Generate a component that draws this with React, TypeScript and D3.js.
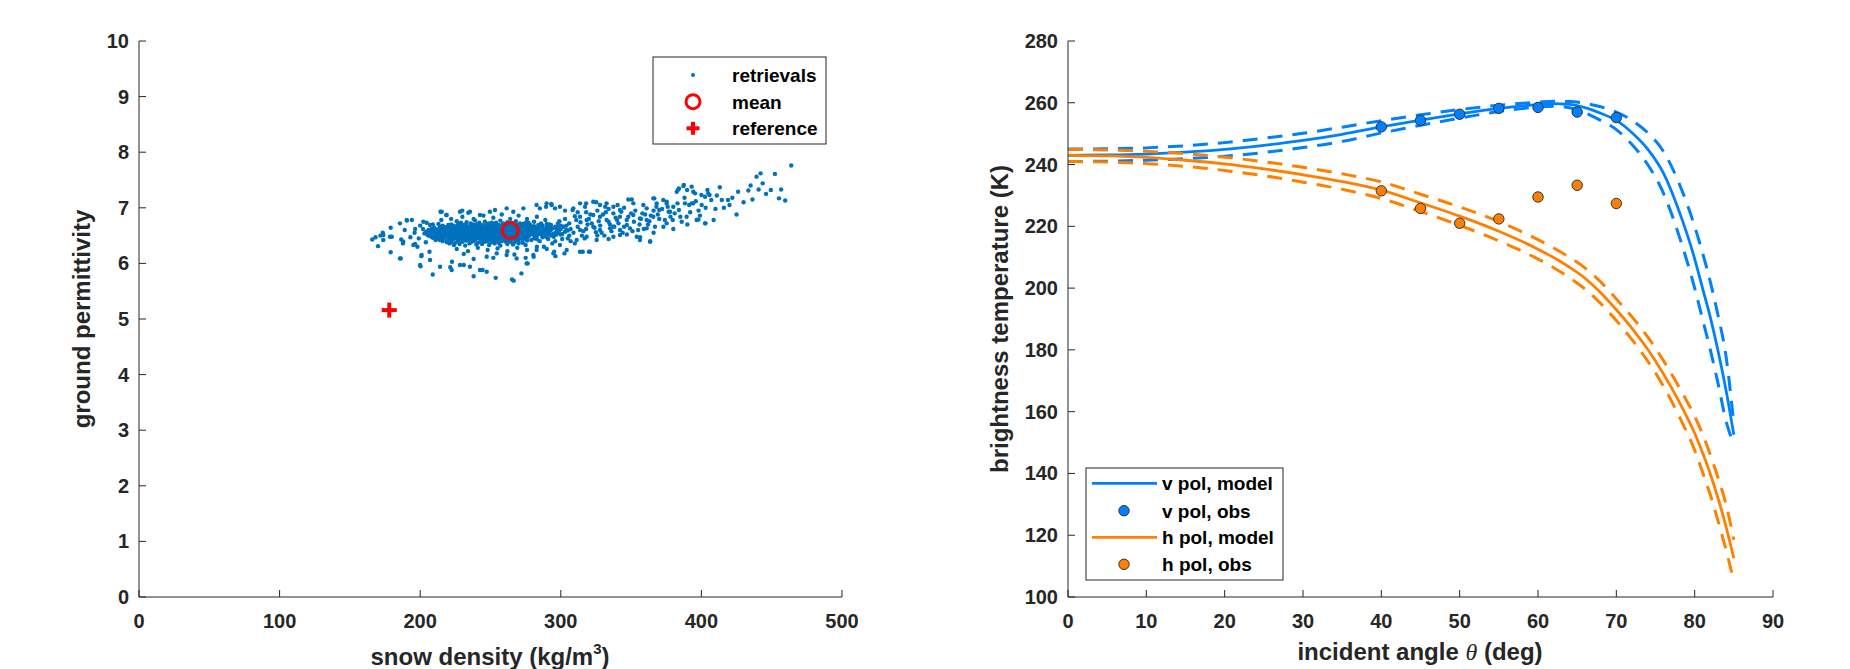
import * as d3 from "d3";

// ---- left panel: retrievals (snow density kg/m3, ground permittivity) ----
const retrievals: [number, number][] = [
  // sparse outliers
  [165.9, 6.43], [168.2, 6.47], [170.0, 6.31], [171.7, 6.5], [173.4, 6.55], [173.7, 6.42], [179.0, 6.64], [179.8, 6.48],
  [179.0, 6.2], [186.2, 6.09], [186.5, 6.43], [187.7, 6.36], [190.6, 6.77], [194.1, 6.78], [196.4, 6.62], [196.4, 6.35],
  [200.8, 6.13], [200.2, 5.95], [204.6, 6.73], [206.6, 6.21], [208.9, 5.8], [213.0, 6.71], [214.4, 6.93], [218.5, 6.87],
  [221.4, 5.93], [222.6, 6.03], [229.9, 6.95], [231.0, 5.97], [234.2, 6.91], [238.0, 5.77], [244.4, 5.88], [247.3, 5.85],
  [253.7, 5.74], [265.3, 5.71], [266.5, 5.69], [272.0, 5.82], [276.4, 6.0], [280.7, 6.12], [285.1, 6.99], [289.5, 7.02],
  [293.2, 7.07], [295.9, 6.99], [295.3, 6.21], [296.2, 6.13], [302.6, 6.18], [308.4, 6.96], [315.6, 6.21], [320.0, 6.21],
  [318.0, 7.08], [325.2, 7.1], [331.6, 7.02], [337.4, 6.66], [340.4, 7.05], [350.5, 7.15], [356.4, 6.47], [363.6, 6.4],
  [366.5, 7.17], [368.0, 7.02], [375.3, 7.11], [376.7, 6.93], [379.6, 6.78], [382.5, 7.29], [384.0, 7.35], [387.5, 7.41],
  [389.8, 7.32], [394.2, 7.29], [391.3, 7.05], [394.2, 7.08], [397.9, 6.79], [400.0, 7.23], [402.9, 6.72], [404.3, 7.32],
  [405.8, 7.23], [408.7, 6.78], [413.1, 7.37], [414.5, 7.14], [418.9, 7.14], [426.1, 7.29], [433.4, 7.31], [436.3, 7.15],
  [439.2, 7.56], [440.7, 7.33], [442.1, 7.62], [443.6, 7.44], [449.4, 7.32], [452.3, 7.61], [455.2, 7.17], [456.7, 7.33],
  [459.6, 7.13], [463.9, 7.76],
  // upper right band
  [313.7, 7.08], [317.2, 7.02], [323.1, 7.11], [327.9, 7.05], [332.6, 7.08], [337.4, 7.02], [342.1, 6.96], [348.0, 7.15],
  [351.6, 7.08], [358.7, 7.05], [361.1, 6.99], [365.8, 7.17], [368.2, 7.08], [372.9, 7.14], [375.3, 7.08], [377.7, 6.93],
  [380.0, 7.02], [383.6, 7.33], [387.2, 7.39], [393.1, 7.38], [395.5, 7.26], [388.3, 7.08], [393.1, 7.08], [400.2, 7.05],
  [402.6, 7.2], [404.9, 7.26], [313.7, 6.84], [318.4, 6.78], [323.1, 6.87], [327.9, 6.84], [332.6, 6.78], [337.4, 6.9],
  [342.1, 6.84], [346.9, 6.78], [351.6, 6.87], [356.3, 6.81], [361.1, 6.78], [365.8, 6.84], [323.1, 6.66], [327.9, 6.6],
  [335.0, 6.63], [342.1, 6.6], [349.2, 6.63], [337.4, 6.48], [342.1, 6.51], [356.3, 6.42], [361.1, 6.63], [363.5, 6.39],
  [375.3, 6.72], [389.5, 6.84], [396.6, 6.78], [402.6, 6.72], [313.7, 6.6], [318.4, 6.48], [311.3, 6.42], [325.5, 6.42],
  [320.8, 6.21], [313.7, 6.21], [304.2, 6.24], [299.4, 6.33], [294.7, 6.18], [280.5, 6.15], [282.8, 6.24], [275.7, 6.0],
  [268.6, 6.09], [261.5, 6.15], [254.4, 6.18], [247.3, 6.12], [242.5, 5.88], [235.4, 5.94], [228.3, 5.97], [222.4, 5.88],
  [214.1, 5.94], [207.0, 6.06], [199.9, 5.97], [201.0, 6.15], [185.6, 6.09], [195.1, 6.33], [188.0, 6.39], [178.5, 6.48],
  [173.8, 6.51], [185.6, 6.72], [190.4, 6.78], [202.2, 6.75], [207.0, 6.69], [215.3, 6.93], [218.8, 6.87], [228.3, 6.93],
  [235.4, 6.93], [242.5, 6.87], [249.6, 6.93], [253.2, 6.96], [261.5, 6.99], [266.2, 6.93], [273.4, 6.99], [282.8, 7.05],
  [289.9, 7.08], [293.5, 7.05], [299.4, 7.02], [308.9, 6.99],
  [292, 6.7], [296, 6.64], [300, 6.68], [304, 6.6], [306, 6.72], [309, 6.55], [312, 6.66], [315, 6.5], [318, 6.62],
  [322, 6.72], [325, 6.56], [328, 6.68], [331, 6.5], [334, 6.75], [338, 6.66], [341, 6.72], [344, 6.55], [347, 6.69],
  [352, 6.75], [355, 6.6], [358, 6.9], [362, 6.7], [366, 6.95], [370, 6.8], [373, 6.66], [305, 6.45], [310, 6.36],
  [300, 6.52], [296, 6.4], [303, 6.8], [310, 6.85], [318, 6.92], [326, 6.95], [334, 6.98], [345, 7.0], [290, 6.62],
  [293, 6.5], [298, 6.58], [302, 6.66], [306, 6.5], [314, 6.74], [320, 6.8], [330, 6.88], [340, 6.78], [350, 6.9],
  [357, 6.8], [364, 6.86], [370, 6.96], [378, 6.84], [384, 6.96], [386, 6.75], [398, 6.95], [410, 6.98], [420, 7.05],
  [425, 6.88],
  [303, 6.95], [307, 6.62], [311, 6.78], [316, 6.58], [319, 6.7], [321, 6.88], [324, 6.64], [327, 6.76], [329, 6.55],
  [332, 6.92], [335, 6.7], [336, 6.58], [339, 6.82], [343, 6.93], [345, 6.66], [348, 6.84], [351, 6.58], [353, 6.95],
  [356, 6.7], [359, 6.62], [360, 6.88], [363, 6.76], [367, 6.66], [369, 6.88], [372, 6.98], [374, 6.78], [376, 7.02],
  [381, 6.9], [383, 7.08], [385, 6.84], [388, 7.18], [392, 6.92], [396, 7.12], [399, 6.86], [403, 7.0], [407, 7.14],
  [411, 7.22], [416, 7.0], [422, 7.18], [430, 7.1], [435, 7.4], [446, 7.25], [312, 6.92], [317, 6.45], [326, 6.5],
  [334, 6.44], [347, 6.52], [354, 6.48], [366, 6.55], [380, 6.62], [390, 6.7],
  [292, 6.58], [295, 6.48], [298, 6.72], [301, 6.44], [304, 6.68], [307, 6.4], [299, 6.76], [294, 6.36], [288, 6.3],
  [285, 6.4], [291, 6.44],
  // left fringe
  [196, 6.55], [199, 6.45], [202, 6.62], [204, 6.38], [206, 6.5], [200, 6.68], [193, 6.47], [189, 6.6], [209, 6.7],
  [211, 6.42], [198, 6.3],
  // upper / lower fringe of core
  [222, 6.8], [230, 6.84], [238, 6.8], [245, 6.86], [252, 6.82], [258, 6.88], [264, 6.8], [270, 6.86], [276, 6.8],
  [283, 6.84], [289, 6.78], [215, 6.78], [226, 6.26], [234, 6.22], [241, 6.28], [248, 6.24], [255, 6.27], [262, 6.22],
  [269, 6.28], [276, 6.24], [283, 6.3], [290, 6.26], [231, 6.17], [252, 6.1], [267, 6.16], [238, 6.08], [275, 6.1],
  // dense core
  [226, 6.76], [233, 6.74], [239, 6.77], [246, 6.75], [251, 6.73], [257, 6.77], [262, 6.74], [268, 6.76], [275, 6.73], [281, 6.75],
  [229, 6.73], [236, 6.72], [242, 6.73], [249, 6.72], [254, 6.73], [259, 6.72], [265, 6.73], [271, 6.72], [277, 6.73], [286, 6.72],
  [222, 6.7], [227, 6.71], [231, 6.69], [236, 6.71], [240, 6.7], [244, 6.69], [248, 6.71], [252, 6.7], [256, 6.69], [260, 6.71],
  [264, 6.7], [269, 6.69], [273, 6.71], [278, 6.7], [284, 6.69], [290, 6.71],
  [216, 6.68], [220, 6.69], [224, 6.68], [229, 6.67], [233, 6.68], [238, 6.69], [242, 6.68], [246, 6.67], [250, 6.68], [254, 6.69],
  [258, 6.68], [262, 6.67], [266, 6.68], [271, 6.69], [275, 6.68], [281, 6.67], [287, 6.68], [293, 6.69],
  [214, 6.66], [218, 6.65], [222, 6.67], [226, 6.66], [229, 6.65], [233, 6.67], [236, 6.66], [240, 6.65], [243, 6.67], [247, 6.66],
  [250, 6.65], [254, 6.67], [257, 6.66], [261, 6.65], [264, 6.67], [268, 6.66], [272, 6.65], [276, 6.67], [280, 6.66], [285, 6.65],
  [290, 6.67], [296, 6.66],
  [210, 6.64], [214, 6.63], [218, 6.64], [221, 6.65], [224, 6.64], [228, 6.63], [231, 6.64], [235, 6.65], [238, 6.64], [242, 6.63],
  [245, 6.64], [249, 6.65], [252, 6.64], [256, 6.63], [259, 6.64], [263, 6.65], [266, 6.64], [270, 6.63], [274, 6.64], [278, 6.65],
  [282, 6.64], [287, 6.63], [292, 6.64], [298, 6.65],
  [208, 6.62], [212, 6.61], [216, 6.63], [219, 6.62], [223, 6.61], [226, 6.63], [230, 6.62], [233, 6.61], [237, 6.63], [240, 6.62],
  [244, 6.61], [247, 6.63], [251, 6.62], [254, 6.61], [258, 6.63], [261, 6.62], [265, 6.61], [268, 6.63], [272, 6.62], [276, 6.61],
  [280, 6.63], [284, 6.62], [289, 6.61], [294, 6.63], [300, 6.62],
  [206, 6.6], [210, 6.59], [214, 6.6], [218, 6.61], [222, 6.6], [225, 6.59], [229, 6.6], [232, 6.61], [236, 6.6], [239, 6.59],
  [243, 6.6], [246, 6.61], [250, 6.6], [253, 6.59], [257, 6.6], [260, 6.61], [264, 6.6], [267, 6.59], [271, 6.6], [275, 6.61],
  [279, 6.6], [283, 6.59], [288, 6.6], [293, 6.61], [299, 6.6], [305, 6.59],
  [205, 6.58], [209, 6.57], [213, 6.59], [217, 6.58], [220, 6.57], [224, 6.59], [227, 6.58], [231, 6.57], [234, 6.59], [238, 6.58],
  [241, 6.57], [245, 6.59], [248, 6.58], [252, 6.57], [255, 6.59], [259, 6.58], [262, 6.57], [266, 6.59], [270, 6.58], [273, 6.57],
  [277, 6.59], [281, 6.58], [286, 6.57], [291, 6.59], [297, 6.58], [303, 6.57],
  [204, 6.56], [208, 6.55], [212, 6.56], [216, 6.57], [219, 6.56], [223, 6.55], [226, 6.56], [230, 6.57], [233, 6.56], [237, 6.55],
  [240, 6.56], [244, 6.57], [247, 6.56], [251, 6.55], [254, 6.56], [258, 6.57], [261, 6.56], [265, 6.55], [269, 6.56], [273, 6.57],
  [277, 6.56], [282, 6.55], [287, 6.56], [292, 6.57], [298, 6.56],
  [203, 6.54], [207, 6.53], [211, 6.55], [214, 6.54], [218, 6.53], [221, 6.55], [225, 6.54], [228, 6.53], [232, 6.55], [235, 6.54],
  [239, 6.53], [242, 6.55], [246, 6.54], [249, 6.53], [253, 6.55], [256, 6.54], [260, 6.53], [263, 6.55], [267, 6.54], [271, 6.53],
  [275, 6.55], [279, 6.54], [284, 6.53], [289, 6.55], [295, 6.54], [301, 6.53],
  [205, 6.52], [208, 6.51], [212, 6.52], [215, 6.53], [219, 6.52], [222, 6.51], [226, 6.52], [229, 6.53], [233, 6.52], [236, 6.51],
  [240, 6.52], [243, 6.53], [247, 6.52], [250, 6.51], [254, 6.52], [257, 6.53], [261, 6.52], [264, 6.51], [268, 6.52], [272, 6.53],
  [276, 6.52], [281, 6.51], [286, 6.52], [291, 6.53], [297, 6.52],
  [206, 6.5], [210, 6.49], [213, 6.51], [217, 6.5], [220, 6.49], [224, 6.51], [227, 6.5], [231, 6.49], [234, 6.51], [238, 6.5],
  [241, 6.49], [245, 6.51], [248, 6.5], [252, 6.49], [255, 6.51], [259, 6.5], [262, 6.49], [266, 6.51], [270, 6.5], [274, 6.49],
  [278, 6.51], [283, 6.5], [288, 6.49], [294, 6.51],
  [208, 6.48], [211, 6.47], [215, 6.48], [219, 6.49], [222, 6.48], [226, 6.47], [229, 6.48], [233, 6.49], [236, 6.48], [240, 6.47],
  [243, 6.48], [247, 6.49], [250, 6.48], [254, 6.47], [257, 6.48], [261, 6.49], [265, 6.48], [268, 6.47], [272, 6.48], [277, 6.49],
  [282, 6.48], [290, 6.47],
  [209, 6.46], [213, 6.45], [217, 6.47], [221, 6.46], [224, 6.45], [228, 6.47], [231, 6.46], [235, 6.45], [238, 6.47], [242, 6.46],
  [245, 6.45], [249, 6.47], [252, 6.46], [256, 6.45], [260, 6.47], [263, 6.46], [267, 6.45], [271, 6.47], [276, 6.46], [281, 6.45],
  [287, 6.47],
  [211, 6.44], [216, 6.43], [220, 6.44], [225, 6.45], [229, 6.44], [233, 6.43], [237, 6.44], [241, 6.45], [245, 6.44], [249, 6.43],
  [253, 6.44], [257, 6.45], [261, 6.44], [265, 6.43], [270, 6.44], [275, 6.45], [283, 6.44],
  [214, 6.42], [219, 6.41], [223, 6.43], [227, 6.42], [231, 6.41], [235, 6.43], [239, 6.42], [243, 6.41], [247, 6.43], [251, 6.42],
  [255, 6.41], [259, 6.43], [263, 6.42], [268, 6.41], [273, 6.43], [279, 6.42],
  [216, 6.4], [222, 6.39], [227, 6.4], [233, 6.41], [238, 6.4], [243, 6.39], [248, 6.4], [253, 6.41], [258, 6.4], [264, 6.39],
  [270, 6.4], [276, 6.41],
  [219, 6.38], [225, 6.37], [230, 6.39], [236, 6.38], [241, 6.37], [246, 6.39], [251, 6.38], [256, 6.37], [261, 6.39], [267, 6.38],
  [273, 6.37],
  [221, 6.36], [228, 6.35], [235, 6.36], [244, 6.35], [253, 6.36], [262, 6.35], [270, 6.36],
  [224, 6.33], [232, 6.32], [240, 6.34], [249, 6.33], [257, 6.32], [266, 6.34], [275, 6.33],
];
const meanPoint: [number, number] = [264, 6.59];
const referencePoint: [number, number] = [178, 5.16];
const densityTicks = [0, 100, 200, 300, 400, 500];
const permittivityTicks = [0, 1, 2, 3, 4, 5, 6, 7, 8, 9, 10];

// ---- right panel: brightness temperature vs incident angle ----
const angles = [0, 5, 10, 15, 20, 25, 30, 35, 40, 45, 50, 55, 60, 62, 64, 66, 68, 70, 72, 74, 76, 78, 80, 81, 82, 83, 84, 85];
const vModel = [243.0, 243.1, 243.4, 244.0, 244.9, 246.2, 247.8, 249.8, 252.2, 254.4, 256.4, 258.2, 259.4, 259.7, 259.5, 258.4,
  256.6, 254.3, 250.3, 245.0, 237.3, 225.0, 209.5, 200.0, 190.5, 179.5, 167.0, 152.5];
const vUpper = [245.0, 245.1, 245.4, 246.1, 247.1, 248.5, 250.1, 252.1, 254.2, 256.1, 257.8, 259.2, 260.2, 260.5, 260.4, 259.8,
  258.7, 257.0, 254.3, 250.3, 244.3, 234.0, 220.0, 211.5, 202.0, 191.0, 178.0, 156.0];
const vLower = [241.0, 241.1, 241.4, 241.9, 242.7, 243.9, 245.5, 247.5, 250.2, 252.7, 255.0, 257.2, 258.6, 258.9, 258.4, 256.8,
  254.3, 251.3, 246.5, 240.0, 230.8, 217.0, 200.0, 190.0, 180.0, 169.0, 157.0, 149.5];
const hModel = [243.0, 242.8, 242.3, 241.4, 240.2, 238.6, 236.7, 234.5, 231.7, 227.6, 223.3, 218.4, 212.6, 209.9, 206.8, 203.2,
  198.5, 193.0, 187.0, 180.2, 172.3, 163.3, 153.0, 146.8, 139.8, 131.8, 122.8, 112.5];
const hUpper = [244.9, 244.7, 244.3, 243.5, 242.4, 240.9, 239.1, 237.0, 234.4, 230.4, 226.3, 221.5, 215.7, 213.0, 210.0, 206.5,
  202.0, 196.5, 190.7, 184.2, 176.6, 168.0, 158.5, 152.8, 146.0, 138.5, 130.0, 118.5];
const hLower = [241.0, 240.8, 240.3, 239.4, 238.1, 236.4, 234.3, 232.0, 229.0, 224.8, 220.3, 215.3, 209.4, 206.6, 203.4, 199.7,
  195.0, 189.5, 183.3, 176.4, 168.3, 158.6, 147.5, 140.5, 133.0, 124.5, 115.3, 105.0];
const obsAngles = [40, 45, 50, 55, 60, 65, 70];
const vObs = [252.2, 254.3, 256.3, 258.2, 258.5, 257.0, 255.2];
const hObs = [231.5, 225.8, 221.0, 222.4, 229.5, 233.3, 227.4];
const angleTicks = [0, 10, 20, 30, 40, 50, 60, 70, 80, 90];
const tempTicks = [100, 120, 140, 160, 180, 200, 220, 240, 260, 280];

const font = "'Liberation Sans', Arial, Helvetica, sans-serif";
const axisColor = "#262626";
const scatterBlue = "#0072BD";
const vColor = "#0080FF";
const hColor = "#FF8000";
const top = 41;
const bottom = 597;

const xL = d3.scaleLinear().domain([0, 500]).range([139, 842]);
const yL = d3.scaleLinear().domain([0, 10]).range([bottom, top]);
const xR = d3.scaleLinear().domain([0, 90]).range([1068, 1773]);
const yR = d3.scaleLinear().domain([100, 280]).range([bottom, top]);

function Axes({ x, y, xTicks, yTicks }: { x: any; y: any; xTicks: number[]; yTicks: number[] }) {
  const [x0, x1] = x.range();
  return (
    <g fontFamily={font} fontWeight="bold" fontSize={20} fill={axisColor}>
      <line x1={x0} x2={x1} y1={bottom} y2={bottom} stroke={axisColor} strokeWidth={1} />
      <line x1={x0} x2={x0} y1={bottom} y2={top} stroke={axisColor} strokeWidth={1} />
      {xTicks.map((t) => (
        <g key={"x" + t}>
          <line x1={x(t)} x2={x(t)} y1={bottom} y2={bottom - 7} stroke={axisColor} />
          <text x={x(t)} y={bottom + 31} textAnchor="middle">{t}</text>
        </g>
      ))}
      {yTicks.map((t) => (
        <g key={"y" + t}>
          <line x1={x0} x2={x0 + 7} y1={y(t)} y2={y(t)} stroke={axisColor} />
          <text x={x0 - 10} y={y(t) + 7} textAnchor="end">{t}</text>
        </g>
      ))}
    </g>
  );
}

function Plus({ cx, cy, size, color }: { cx: number; cy: number; size: number; color: string }) {
  return (
    <g stroke={color} strokeWidth={4}>
      <line x1={cx - size} x2={cx + size} y1={cy} y2={cy} />
      <line x1={cx} x2={cx} y1={cy - size} y2={cy + size} />
    </g>
  );
}

export default function App() {
  const line = (vals: number[]) =>
    d3
      .line<number>()
      .x((_, i) => xR(angles[i]))
      .y((d) => yR(d))
      .curve(d3.curveMonotoneX)(vals) as string;

  const dash = "15 10";
  const lw = 2.8;
  const dlw = 3;

  return (
    <div style={{ position: "absolute", left: 0, top: 0 }}>
      <svg width={1850} height={669} style={{ display: "block", background: "#fff" }}>
        {/* left panel */}
        <g>
          {retrievals.map(([d, v], i) => (
            <circle key={i} cx={xL(d)} cy={yL(v)} r={2.2} fill={scatterBlue} />
          ))}
          <circle cx={xL(meanPoint[0])} cy={yL(meanPoint[1])} r={8} fill="none" stroke="#FF0000" strokeWidth={3} />
          <Plus cx={xL(referencePoint[0])} cy={yL(referencePoint[1])} size={7.5} color="#FF0000" />
          <Axes x={xL} y={yL} xTicks={densityTicks} yTicks={permittivityTicks} />
          <text x={490} y={665} textAnchor="middle" fontFamily={font} fontWeight="bold" fontSize={24} fill={axisColor}>
            snow density (kg/m<tspan dy={-11} fontSize={15}>3</tspan><tspan dy={11}>)</tspan>
          </text>
          <text transform="translate(90,319) rotate(-90)" textAnchor="middle" fontFamily={font} fontWeight="bold" fontSize={24} fill={axisColor}>
            ground permittivity
          </text>
          {/* legend */}
          <g fontFamily={font} fontWeight="bold" fontSize={19} fill="#000">
            <rect x={653} y={57} width={173} height={87} fill="#fff" stroke={axisColor} strokeWidth={1} />
            <circle cx={693} cy={75} r={2} fill={scatterBlue} />
            <text x={732} y={82}>retrievals</text>
            <circle cx={693} cy={101.7} r={7} fill="none" stroke="#FF0000" strokeWidth={3} />
            <text x={732} y={108.7}>mean</text>
            <Plus cx={693} cy={128.3} size={6.5} color="#FF0000" />
            <text x={732} y={135.3}>reference</text>
          </g>
        </g>

        {/* right panel */}
        <g fill="none">
          <path d={line(vUpper)} stroke={vColor} strokeWidth={dlw} strokeDasharray={dash} />
          <path d={line(vLower)} stroke={vColor} strokeWidth={dlw} strokeDasharray={dash} />
          <path d={line(vModel)} stroke={vColor} strokeWidth={lw} />
          <path d={line(hUpper)} stroke={hColor} strokeWidth={dlw} strokeDasharray={dash} />
          <path d={line(hLower)} stroke={hColor} strokeWidth={dlw} strokeDasharray={dash} />
          <path d={line(hModel)} stroke={hColor} strokeWidth={lw} />
        </g>
        {obsAngles.map((a, i) => (
          <g key={"o" + a}>
            <circle cx={xR(a)} cy={yR(vObs[i])} r={5.2} fill={vColor} stroke="#333" strokeWidth={1} />
            <circle cx={xR(a)} cy={yR(hObs[i])} r={5.2} fill={hColor} stroke="#333" strokeWidth={1} />
          </g>
        ))}
        <Axes x={xR} y={yR} xTicks={angleTicks} yTicks={tempTicks} />
        <text x={1420} y={660} textAnchor="middle" fontFamily={font} fontWeight="bold" fontSize={24} fill={axisColor}>
          incident angle <tspan fontFamily="'Liberation Serif', serif" fontStyle="italic" fontWeight="normal">θ</tspan> (deg)
        </text>
        <text transform="translate(1008,319) rotate(-90)" textAnchor="middle" fontFamily={font} fontWeight="bold" fontSize={24} fill={axisColor}>
          brightness temperature (K)
        </text>
        <g fontFamily={font} fontWeight="bold" fontSize={19} fill="#000">
          <rect x={1086} y={468} width={197} height={112} fill="#fff" stroke={axisColor} strokeWidth={1} />
          <line x1={1092} x2={1157} y1={483.3} y2={483.3} stroke={vColor} strokeWidth={lw} />
          <text x={1162} y={490.3}>v pol, model</text>
          <circle cx={1124} cy={510.7} r={5.2} fill={vColor} stroke="#333" strokeWidth={1} />
          <text x={1162} y={517.7}>v pol, obs</text>
          <line x1={1092} x2={1157} y1={537.3} y2={537.3} stroke={hColor} strokeWidth={lw} />
          <text x={1162} y={544.3}>h pol, model</text>
          <circle cx={1124} cy={564.3} r={5.2} fill={hColor} stroke="#333" strokeWidth={1} />
          <text x={1162} y={571.3}>h pol, obs</text>
        </g>
      </svg>
    </div>
  );
}
